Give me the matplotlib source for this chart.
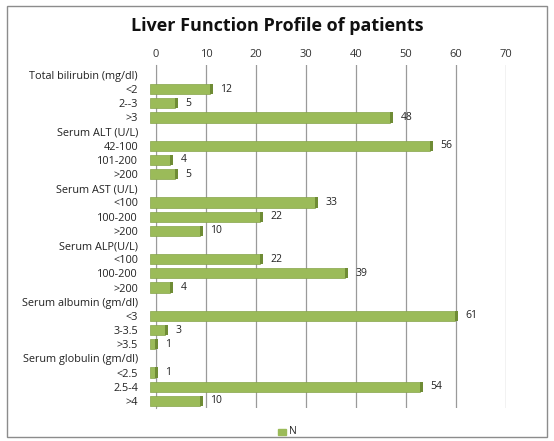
import numpy as np
import matplotlib.pyplot as plt
from matplotlib.patches import Rectangle

plt.rcParams['font.family'] = ['Open Sans', 'DejaVu Sans']

# categories (headers have no value)
labels = ['Total bilirubin (mg/dl)', '<2', '2--3', '>3',
          'Serum ALT (U/L)', '42-100', '101-200', '>200',
          'Serum AST (U/L)', '<100', '100-200', '>200',
          'Serum ALP(U/L)', '<100', '100-200', '>200',
          'Serum albumin (gm/dl)', '<3', '3-3.5', '>3.5',
          'Serum globulin (gm/dl)', '<2.5', '2.5-4', '>4']
values = [None, 12, 5, 48,
          None, 56, 4, 5,
          None, 33, 22, 10,
          None, 22, 39, 4,
          None, 61, 3, 1,
          None, 1, 54, 10]
xticks = [0, 10, 20, 30, 40, 50, 60, 70]

fig = plt.figure(figsize=(5.54, 4.41), dpi=100)
fig.patches.append(Rectangle((7/554, 4/441), 540/554, 431/441, transform=fig.transFigure,
                             fill=False, edgecolor='#8c8c8c', linewidth=1.0))
fig.text(0.5, 1-26/441, 'Liver Function Profile of patients', ha='center', va='center',
         fontsize=13, fontweight='bold', color='#111111')

ax = fig.add_axes([156/554, 1-408/441, 350/554, 343/441])
y = np.arange(len(labels))
for i, v in enumerate(values):
    if v is None:
        continue
    ax.barh(i, v, left=-1.2, height=0.72, color='#9BBB59', edgecolor='#86A44A',
            linewidth=0.5, zorder=3, clip_on=False)
    ax.barh(i, 0.6, left=v - 1.2, height=0.72, color='#6F8C35', zorder=4, clip_on=False)
    ax.text(v + 0.9, i, str(v), va='center', ha='left', fontsize=7.5, color='#222222')

ax.set_xlim(0, 70)
ax.set_ylim(23.5, -0.7)
ax.set_xticks(xticks)
ax.xaxis.tick_top()
ax.tick_params(axis='x', length=0, labelsize=8, labelcolor='#333333', pad=3.5)
ax.set_yticks(y)
ax.set_yticklabels(labels, fontsize=7.8, color='#222222')
ax.tick_params(axis='y', length=0, pad=13)
ax.grid(axis='x', color='#9a9a9a', linewidth=0.9, zorder=0)
ax.set_axisbelow(True)
for s in ['top', 'bottom', 'right']:
    ax.spines[s].set_visible(False)
ax.spines['left'].set_color('#9a9a9a')
ax.patch.set_alpha(0)

fig.patches.append(Rectangle((278/554, 1-435/441), 8/554, 6/441, transform=fig.transFigure,
                             color='#9BBB59'))
fig.text(289/554, 1-432/441, 'N', fontsize=7.5, va='center', ha='left', color='#222222')

fig.savefig('out.png', dpi=100)
